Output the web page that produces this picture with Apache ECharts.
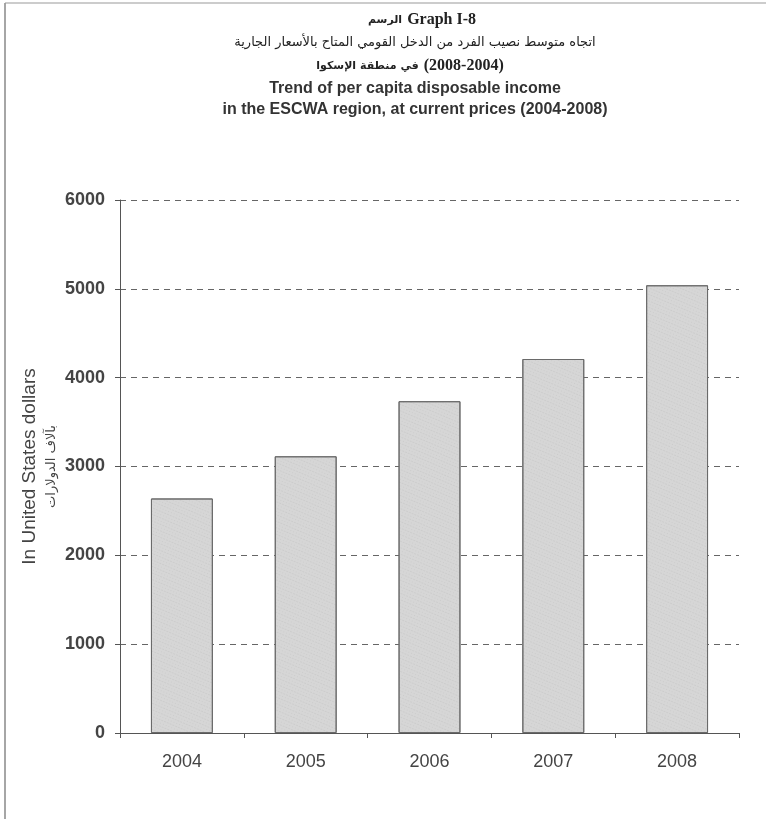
<!DOCTYPE html>
<html dir="ltr">
<head>
<meta charset="utf-8">
<script src="https://cdn.jsdelivr.net/npm/echarts@6/dist/echarts.min.js"></script>
<style>
html,body{margin:0;padding:0;background:#fff;}
#chart{width:766px;height:819px;}
</style>
</head>
<body>
<div id="chart"></div>
<script>
const years = ['2004', '2005', '2006', '2007', '2008'];
const incomeValues = [2640, 3115, 3735, 4210, 5040];
const yTicks = { min: 0, max: 6000, interval: 1000 };

const titleArLabel = 'الرسم';
const titleGraphLabel = 'Graph I-8';
const titleArLine = 'اتجاه متوسط نصيب الفرد من الدخل القومي المتاح بالأسعار الجارية';
const titleArRegion = 'في منطقة الإسكوا';
const titleArYears = '(2008-2004)';
const titleEnLine1 = 'Trend of per capita disposable income';
const titleEnLine2 = 'in the ESCWA region, at current prices (2004-2008)';
const yAxisNameEn = 'In United States dollars';
const yAxisNameAr = 'بآلاف الدولارات';

const chart = echarts.init(document.getElementById('chart'), null, { renderer: 'canvas' });

const AR_FONT = '"DejaVu Sans", sans-serif';
const SERIF = '"Liberation Serif", "DejaVu Serif", serif';
const SANS = '"Liberation Sans", Arial, sans-serif';

const option = {
  backgroundColor: '#ffffff',
  animation: false,
  title: [
    {
      text: '{ar|' + titleArLabel + '} {en|' + titleGraphLabel + '}',
      left: 422, textAlign: 'center', top: 11, padding: 0,
      textStyle: {
        rich: {
          ar: { fontFamily: AR_FONT, fontSize: 11, fontWeight: 'bold', color: '#222' },
          en: { fontFamily: SERIF, fontSize: 16, fontWeight: 'bold', color: '#222' }
        }
      }
    },
    {
      text: titleArLine,
      left: 415, textAlign: 'center', top: 36, padding: 0,
      textStyle: { fontFamily: AR_FONT, fontSize: 13, fontWeight: 'normal', color: '#222' }
    },
    {
      text: '{ar|' + titleArRegion + '} {num|' + titleArYears + '}',
      left: 410, textAlign: 'center', top: 57, padding: 0,
      textStyle: {
        rich: {
          ar: { fontFamily: AR_FONT, fontSize: 11, fontWeight: 'bold', color: '#222' },
          num: { fontFamily: SERIF, fontSize: 16, fontWeight: 'bold', color: '#222' }
        }
      }
    },
    {
      text: titleEnLine1,
      left: 415, textAlign: 'center', top: 81, padding: 0,
      textStyle: { fontFamily: SANS, fontSize: 16, fontWeight: 'bold', color: '#333' }
    },
    {
      text: titleEnLine2,
      left: 415, textAlign: 'center', top: 102, padding: 0,
      textStyle: { fontFamily: SANS, fontSize: 16, fontWeight: 'bold', color: '#333' }
    }
  ],
  graphic: [
    { type: 'line', shape: { x1: 5, y1: 3, x2: 5, y2: 819 }, style: { stroke: '#888', lineWidth: 1.5 } },
    { type: 'line', shape: { x1: 5, y1: 3, x2: 766, y2: 3 }, style: { stroke: '#999', lineWidth: 1.2 } }
  ],
  grid: { left: 120, right: 27, top: 200, bottom: 86, containLabel: false },
  xAxis: {
    type: 'category',
    data: years,
    boundaryGap: true,
    axisLine: { show: true, lineStyle: { color: '#555', width: 1 } },
    axisTick: { show: true, length: 5, inside: false, lineStyle: { color: '#555' } },
    axisLabel: {
      color: '#444',
      fontFamily: SANS,
      fontSize: 18,
      margin: 20
    }
  },
  yAxis: {
    type: 'value',
    min: yTicks.min,
    max: yTicks.max,
    interval: yTicks.interval,
    name: '{en|' + yAxisNameEn + '}\n{ar|' + yAxisNameAr + '}',
    nameLocation: 'middle',
    nameRotate: 90,
    nameGap: 57,
    nameMoveOverlap: false,
    nameTextStyle: {
      rich: {
        en: { fontFamily: SANS, fontSize: 19, color: '#444', lineHeight: 22 },
        ar: { fontFamily: AR_FONT, fontSize: 13, color: '#444', lineHeight: 22 }
      }
    },
    axisLine: { show: true, lineStyle: { color: '#555', width: 1 } },
    axisTick: { show: true, length: 5, inside: false, lineStyle: { color: '#555' } },
    axisLabel: {
      color: '#444',
      fontFamily: SANS,
      fontSize: 18,
      fontWeight: 'bold',
      margin: 15,
      formatter: (v) => String(v)
    },
    splitLine: {
      show: true,
      lineStyle: { color: '#666', type: [6, 5], width: 1 }
    }
  },
  series: [{
    type: 'bar',
    data: incomeValues,
    barWidth: '50%',
    itemStyle: {
      color: '#d6d6d6',
      borderColor: '#6a6a6a',
      borderWidth: 1,
      decal: {
        symbol: 'rect',
        symbolSize: 0.6,
        color: 'rgba(90,90,90,0.25)',
        dashArrayX: [[1, 2], [2, 1]],
        dashArrayY: [1, 2],
        rotation: 0.4
      }
    }
  }]
};
chart.setOption(option);
</script>
</body>
</html>
